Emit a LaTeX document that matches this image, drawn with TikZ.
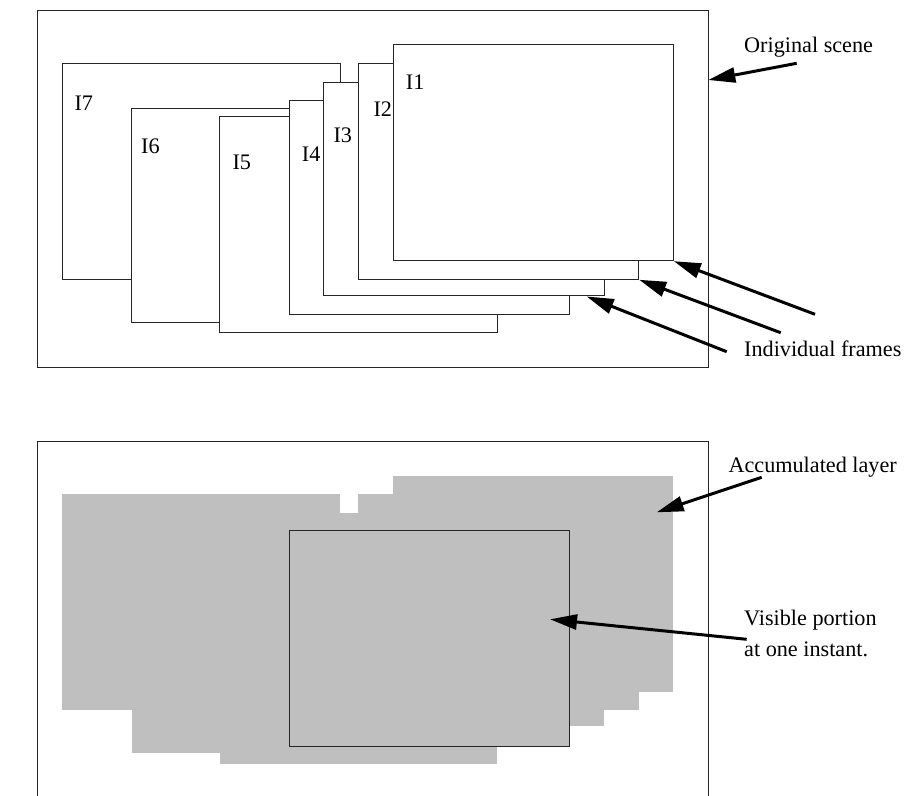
\documentclass[tikz,border=0pt]{standalone}
\usepackage{fontspec}
\setmainfont{Liberation Serif}
\usetikzlibrary{arrows.meta,fit}
\begin{document}
\begin{tikzpicture}[x=1pt,y=-1pt,
  outline/.style={draw=black!85,line width=1pt},
  frm/.style={outline,fill=white,inner sep=0pt},
  layer/.style={fill=black!25,draw=none,inner sep=0pt},
  lbl/.style={font=\fontsize{22.2pt}{26pt}\selectfont,inner sep=0pt,anchor=base west},
  arr/.style={line width=3pt,-{Triangle[length=27pt,width=15pt]}}]
\useasboundingbox (0,0) rectangle (907,795);
% ---------- top: original scene ----------
\node[outline,inner sep=0pt,fit={(37,10) (708,367.7)}] (scene) {};
\node[frm,fit={(62.3,63.3) (340,279.3)}] (f7) {};
\node[frm,fit={(131.7,108.7) (410,322.3)}] (f6) {};
\node[frm,fit={(219.7,116.7) (497.3,332.7)}] (f5) {};
\node[frm,fit={(289.3,100) (569.3,314.5)}] (f4) {};
\node[frm,fit={(323.7,82) (604,295.3)}] (f3) {};
\node[frm,fit={(358.3,63.3) (638.7,279.3)}] (f2) {};
\node[frm,fit={(393,44.7) (673.3,260.7)}] (f1) {};
\node[lbl] (l7) at (74.3,110) {I7};
\node[lbl] (l6) at (141,153.3) {I6};
\node[lbl] (l5) at (232.3,169) {I5};
\node[lbl] (l4) at (301.7,161.7) {I4};
\node[lbl] (l3) at (333.3,142.3) {I3};
\node[lbl] (l2) at (373.3,116.7) {I2};
\node[lbl] (l1) at (405.7,89.3) {I1};
\node[lbl] (tscene) at (744,52.5) {Original scene};
\node[lbl] (tframes) at (744,356) {Individual frames};
\coordinate (s0) at (796.7,63.3);
\coordinate (s1) at (708.3,80);
\coordinate (a1) at (815,314.3);
\coordinate (a2) at (780.7,332.7);
\coordinate (a3) at (726.7,351.7);
\coordinate (t3) at (586.7,296.5);
\draw[arr] (s0) -- (s1);
\draw[arr] (a1) -- (f1.south east);
\draw[arr] (a2) -- (f2.south east);
\draw[arr] (a3) -- (t3);
% ---------- bottom: accumulated layer ----------
\draw[outline] (37,798) -- (37,441) -- (708,441) -- (708,798);
\node[layer,fit={(62.3,494.3) (340,710.3)}] (g7) {};
\node[layer,fit={(131.7,539.7) (410,753.3)}] (g6) {};
\node[layer,fit={(219.7,547.7) (497.3,763.7)}] (g5) {};
\node[layer,fit={(289.3,530) (569.3,746)}] (g4) {};
\node[layer,fit={(323.7,513) (604,726.3)}] (g3) {};
\node[layer,fit={(358.3,494.3) (638.7,710.3)}] (g2) {};
\node[layer,fit={(393,475.7) (673.3,691.7)}] (g1) {};
\node[outline,inner sep=0pt,fit={(289.3,530) (569.3,746)}] (vis) {};
\node[lbl] (tacc) at (728.3,472.7) {Accumulated layer};
\node[lbl] (tvis1) at (744,625) {Visible portion};
\node[lbl] (tvis2) at (744,656.7) {at one instant.};
\coordinate (b0) at (761.7,477.3);
\coordinate (b1) at (656.7,512.3);
\coordinate (c0) at (746.7,639.3);
\coordinate (c1) at (550,619.3);
\draw[arr] (b0) -- (b1);
\draw[arr] (c0) -- (c1);
\end{tikzpicture}
\end{document}
